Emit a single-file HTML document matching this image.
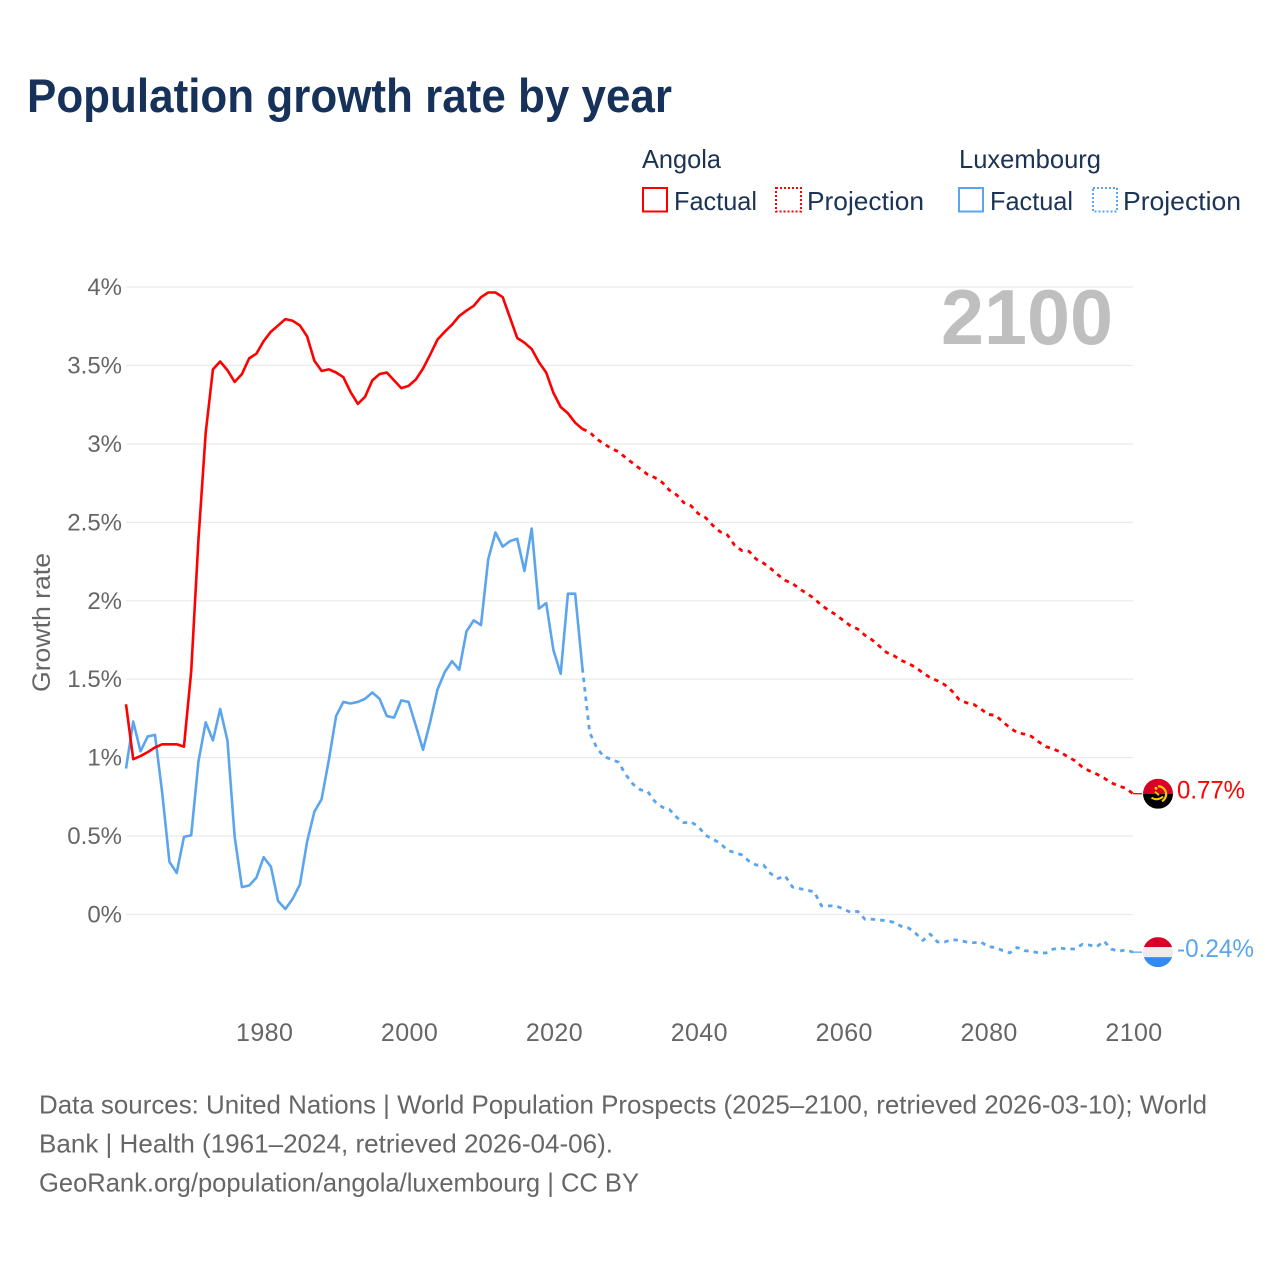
<!DOCTYPE html>
<html lang="en">
<head>
<meta charset="utf-8">
<title>Population growth rate by year</title>
<style>
  html, body { margin: 0; padding: 0; background: #fff; }
  svg { display: block; font-family: "Liberation Sans", sans-serif; }
</style>
</head>
<body>
<svg id="chart" xmlns="http://www.w3.org/2000/svg" width="1280" height="1280" viewBox="0 0 1280 1280">
  <rect x="0" y="0" width="1280" height="1280" fill="#fff"/>
  <text x="27" y="112" font-size="47" font-weight="700" fill="#17325a" textLength="645" lengthAdjust="spacingAndGlyphs">Population growth rate by year</text>

  <g font-size="26" fill="#1b3354">
    <text x="642" y="168" textLength="79" lengthAdjust="spacingAndGlyphs">Angola</text>
    <text x="959" y="168" textLength="142" lengthAdjust="spacingAndGlyphs">Luxembourg</text>
    <g>
      <rect x="643" y="188" width="24" height="23.5" fill="none" stroke="#ff0000" stroke-width="2"/>
      <text x="674" y="210" textLength="83" lengthAdjust="spacingAndGlyphs">Factual</text>
    </g>
    <g>
      <rect x="776" y="188" width="25" height="23.5" fill="none" stroke="#ff0000" stroke-width="2" stroke-dasharray="2 2"/>
      <text x="807" y="210" textLength="117" lengthAdjust="spacingAndGlyphs">Projection</text>
    </g>
    <g>
      <rect x="959" y="188" width="24" height="23.5" fill="none" stroke="#5aa5ee" stroke-width="2"/>
      <text x="990" y="210" textLength="83" lengthAdjust="spacingAndGlyphs">Factual</text>
    </g>
    <g>
      <rect x="1093" y="188" width="24" height="23.5" fill="none" stroke="#5aa5ee" stroke-width="2" stroke-dasharray="2 2"/>
      <text x="1123" y="210" textLength="118" lengthAdjust="spacingAndGlyphs">Projection</text>
    </g>
  </g>

  <g id="grid"></g>
  <g id="y-ticks"></g>
  <g id="x-ticks"></g>

  <text transform="translate(50 622.5) rotate(-90)" text-anchor="middle" font-size="25" fill="#666" textLength="139" lengthAdjust="spacingAndGlyphs">Growth rate</text>
  <text x="941" y="344" font-size="78" font-weight="700" fill="#bfbfbf" textLength="172" lengthAdjust="spacingAndGlyphs">2100</text>

  <g id="series" fill="none" stroke-width="2.6" stroke-linejoin="round"></g>

  <defs>
    <clipPath id="flag-clip"><circle cx="0" cy="0" r="15"/></clipPath>
  </defs>

  <g id="flag-angola">
    <g clip-path="url(#flag-clip)">
      <rect x="-15" y="-15" width="30" height="15" fill="#d80027"/>
      <rect x="-15" y="0" width="30" height="15" fill="#000"/>
      <path d="M0 -7.5 A8 8 0 0 1 4 7.5" fill="none" stroke="#ffcb00" stroke-width="2.2"/>
      <path d="M-6.5 4 Q-1 7.5 5 3" fill="none" stroke="#ffcb00" stroke-width="2"/>
      <path d="M-3 -2 l4 3.5" stroke="#ffcb00" stroke-width="1.8"/>
      <circle cx="-2" cy="-5.5" r="1.5" fill="#ffcb00"/>
    </g>
  </g>
  <g id="flag-luxembourg">
    <g clip-path="url(#flag-clip)">
      <rect x="-15" y="-15" width="30" height="10" fill="#d80027"/>
      <rect x="-15" y="-5" width="30" height="10" fill="#ececec"/>
      <rect x="-15" y="5" width="30" height="10" fill="#338af3"/>
    </g>
  </g>

  <text id="label-angola" x="1177" font-size="25" fill="#ff0000" textLength="68" lengthAdjust="spacingAndGlyphs">0.77%</text>
  <text id="label-luxembourg" x="1177" font-size="25" fill="#5aa5ee" textLength="77" lengthAdjust="spacingAndGlyphs">-0.24%</text>

  <g font-size="26" fill="#666">
    <text x="39" y="1113.5" textLength="1168" lengthAdjust="spacingAndGlyphs">Data sources: United Nations | World Population Prospects (2025–2100, retrieved 2026-03-10); World</text>
    <text x="39" y="1152.5" textLength="574" lengthAdjust="spacingAndGlyphs">Bank | Health (1961–2024, retrieved 2026-04-06).</text>
    <text x="39" y="1191.5" textLength="600" lengthAdjust="spacingAndGlyphs">GeoRank.org/population/angola/luxembourg | CC BY</text>
  </g>
</svg>

<script>
const factualStartYear = 1961;
const projectionStartYear = 2024;
const yTickValues = [0, 0.5, 1, 1.5, 2, 2.5, 3, 3.5, 4];
const yTickLabels = ["0%", "0.5%", "1%", "1.5%", "2%", "2.5%", "3%", "3.5%", "4%"];
const xTickValues = [1980, 2000, 2020, 2040, 2060, 2080, 2100];
const xTickLabels = ["1980", "2000", "2020", "2040", "2060", "2080", "2100"];

const angolaFactual = [1.34, 0.99, 1.01, 1.035, 1.065, 1.085, 1.085, 1.085, 1.07, 1.55,
  2.39, 3.07, 3.475, 3.525, 3.47, 3.395, 3.445, 3.545, 3.575, 3.655,
  3.715, 3.755, 3.795, 3.785, 3.755, 3.685, 3.53, 3.465, 3.475, 3.455,
  3.425, 3.33, 3.255, 3.3, 3.405, 3.445, 3.455, 3.405, 3.355, 3.37,
  3.41, 3.48, 3.57, 3.665, 3.715, 3.76, 3.815, 3.85, 3.88, 3.935,
  3.965, 3.965, 3.935, 3.805, 3.675, 3.645, 3.605, 3.52, 3.455, 3.325,
  3.235, 3.195, 3.135, 3.095];

const luxembourgFactual = [0.93, 1.23, 1.04, 1.135, 1.145, 0.775, 0.335, 0.265, 0.495, 0.505,
  0.975, 1.225, 1.11, 1.31, 1.11, 0.495, 0.175, 0.185, 0.235, 0.365,
  0.305, 0.085, 0.035, 0.10, 0.19, 0.465, 0.655, 0.735, 0.985, 1.265,
  1.355, 1.345, 1.355, 1.375, 1.415, 1.375, 1.265, 1.255, 1.365, 1.355,
  1.205, 1.05, 1.23, 1.435, 1.545, 1.615, 1.56, 1.805, 1.875, 1.845,
  2.265, 2.435, 2.345, 2.38, 2.395, 2.19, 2.46, 1.95, 1.985, 1.685,
  1.535, 2.045, 2.045, 1.57];

const angolaProjection = [3.095, 3.075, 3.03, 3.0, 2.97, 2.95, 2.91, 2.875, 2.84, 2.805,
  2.785, 2.755, 2.705, 2.675, 2.625, 2.605, 2.555, 2.53, 2.48, 2.44,
  2.42, 2.355, 2.32, 2.315, 2.265, 2.24, 2.205, 2.165, 2.13, 2.11,
  2.075, 2.045, 2.015, 1.97, 1.94, 1.91, 1.875, 1.84, 1.82, 1.78,
  1.75, 1.71, 1.67, 1.65, 1.62, 1.6, 1.575, 1.54, 1.51, 1.49,
  1.465, 1.425, 1.37, 1.35, 1.34, 1.31, 1.275, 1.27, 1.23, 1.19,
  1.16, 1.15, 1.135, 1.10, 1.07, 1.055, 1.035, 1.005, 0.98, 0.94,
  0.915, 0.895, 0.87, 0.84, 0.82, 0.805, 0.77];

const luxembourgProjection = [1.57, 1.16, 1.06, 1.005, 0.99, 0.97, 0.89, 0.83, 0.795, 0.785,
  0.72, 0.685, 0.67, 0.62, 0.585, 0.59, 0.56, 0.505, 0.48, 0.455,
  0.41, 0.395, 0.38, 0.34, 0.315, 0.315, 0.26, 0.23, 0.245, 0.175,
  0.165, 0.155, 0.145, 0.055, 0.055, 0.055, 0.035, 0.015, 0.02, -0.03,
  -0.03, -0.035, -0.04, -0.05, -0.075, -0.085, -0.12, -0.165, -0.125, -0.175,
  -0.175, -0.16, -0.165, -0.175, -0.18, -0.175, -0.205, -0.21, -0.23, -0.245,
  -0.21, -0.23, -0.235, -0.245, -0.245, -0.22, -0.215, -0.22, -0.22, -0.19,
  -0.195, -0.205, -0.17, -0.22, -0.235, -0.225, -0.24];

const SVG_NS = "http://www.w3.org/2000/svg";
const plotLeft = 126, plotRight = 1133;
const minYear = 1961, maxYear = 2100;
const zeroPixel = 914.5, fourPixel = 287;
const flagCenterX = 1158;

function xScale(year) {
  return plotLeft + (year - minYear) * (plotRight - plotLeft) / (maxYear - minYear);
}
function yScale(value) {
  return zeroPixel + value * (fourPixel - zeroPixel) / 4;
}
function linePoints(values, startYear) {
  return values.map(function (v, i) {
    return xScale(startYear + i).toFixed(2) + "," + yScale(v).toFixed(2);
  }).join(" ");
}

const gridLayer = document.getElementById("grid");
const yTickLayer = document.getElementById("y-ticks");
const xTickLayer = document.getElementById("x-ticks");
const seriesLayer = document.getElementById("series");

yTickValues.forEach(function (value, i) {
  const line = document.createElementNS(SVG_NS, "line");
  
  
  line.setAttribute("x1", plotLeft);
  line.setAttribute("x2", plotRight);
  line.setAttribute("y1", yScale(value));
  line.setAttribute("y2", yScale(value));
  line.setAttribute("stroke", "#ebebeb");
  line.setAttribute("stroke-width", "1.3");
  gridLayer.appendChild(line);

  const label = document.createElementNS(SVG_NS, "text");
  
  
  label.setAttribute("x", 122);
  label.setAttribute("y", yScale(value) + 8);
  label.setAttribute("text-anchor", "end");
  label.setAttribute("font-size", "24");
  label.setAttribute("fill", "#666");
  label.textContent = yTickLabels[i];
  yTickLayer.appendChild(label);
});

xTickValues.forEach(function (year, i) {
  const label = document.createElementNS(SVG_NS, "text");
  
  
  label.setAttribute("x", xScale(year) + 1);
  label.setAttribute("y", 1041);
  label.setAttribute("text-anchor", "middle");
  label.setAttribute("font-size", "25");
  label.setAttribute("letter-spacing", "0.4");
  label.setAttribute("fill", "#666");
  label.textContent = xTickLabels[i];
  xTickLayer.appendChild(label);
});

function drawLine(values, startYear, color, dashed, name) {
  const poly = document.createElementNS(SVG_NS, "polyline");
  
  
  poly.setAttribute("points", linePoints(values, startYear));
  poly.setAttribute("stroke", color);
  if (dashed) {
    poly.setAttribute("stroke-dasharray", "4.5 5");
    poly.setAttribute("stroke-width", "2.8");
  }
  seriesLayer.appendChild(poly);
}

function drawConnector(value, color, name) {
  const line = document.createElementNS(SVG_NS, "line");
  
  
  line.setAttribute("x1", xScale(maxYear));
  line.setAttribute("x2", flagCenterX - 16);
  line.setAttribute("y1", yScale(value));
  line.setAttribute("y2", yScale(value));
  line.setAttribute("stroke", color);
  line.setAttribute("stroke-width", "1.3");
  seriesLayer.appendChild(line);
}

const redColor = "#ff0000";
const blueColor = "#5aa5ee";

drawLine(luxembourgFactual, factualStartYear, blueColor, false, "luxembourg-factual-line");
drawLine(luxembourgProjection, projectionStartYear, blueColor, true, "luxembourg-projection-line");
drawLine(angolaFactual, factualStartYear, redColor, false, "angola-factual-line");
drawLine(angolaProjection, projectionStartYear, redColor, true, "angola-projection-line");

const angolaLast = angolaProjection[angolaProjection.length - 1];
const luxembourgLast = luxembourgProjection[luxembourgProjection.length - 1];

drawConnector(angolaLast, redColor, "angola-end-connector");
drawConnector(luxembourgLast, blueColor, "luxembourg-end-connector");

document.getElementById("flag-angola").setAttribute("transform", "translate(" + flagCenterX + " " + yScale(angolaLast) + ")");
document.getElementById("flag-luxembourg").setAttribute("transform", "translate(" + flagCenterX + " " + yScale(luxembourgLast) + ")");
document.getElementById("label-angola").setAttribute("y", yScale(angolaLast) + 5);
document.getElementById("label-luxembourg").setAttribute("y", yScale(luxembourgLast) + 5);
</script>
</body>
</html>
